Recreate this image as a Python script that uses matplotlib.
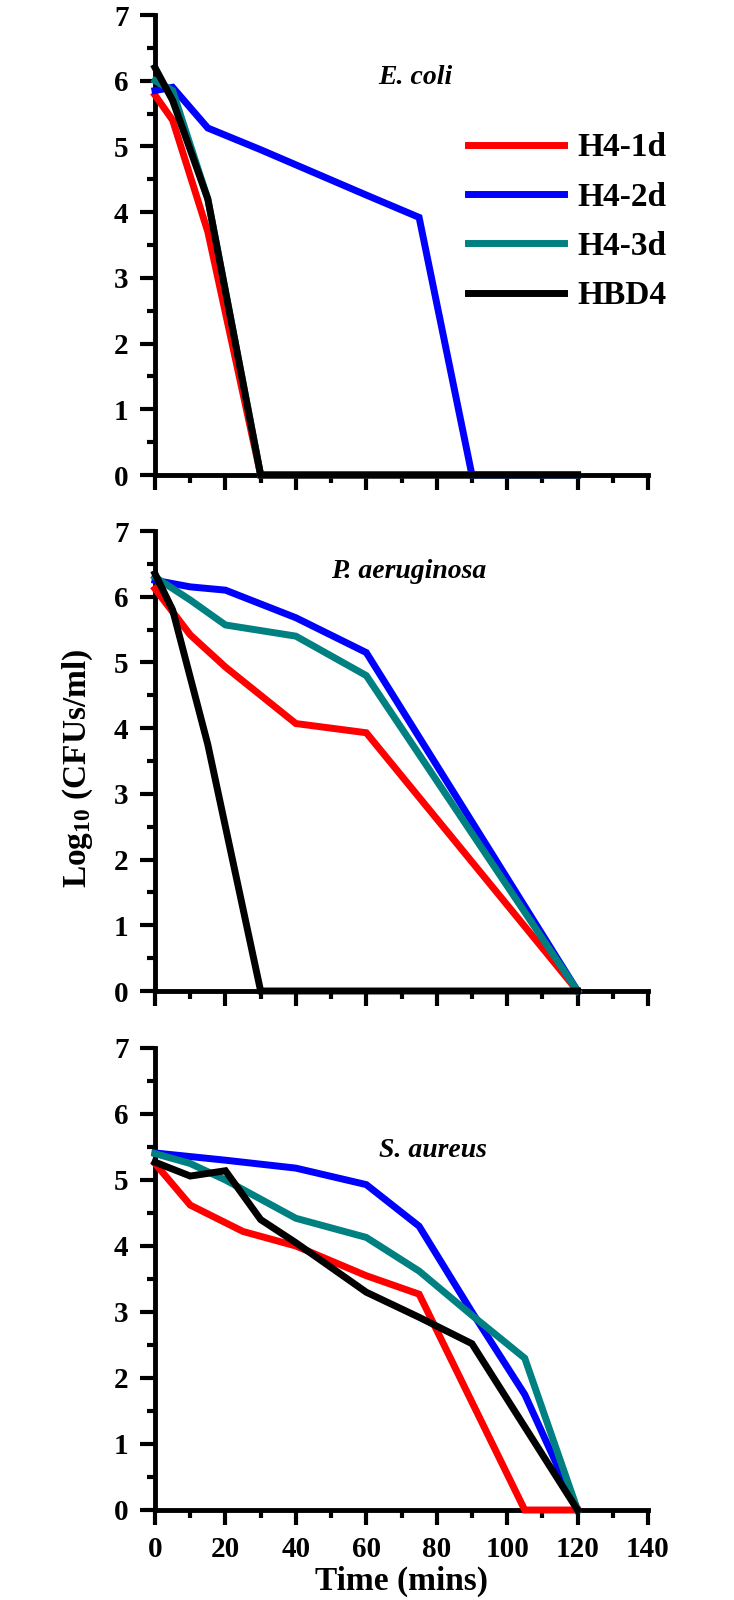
import matplotlib
matplotlib.use("Agg")
import matplotlib.pyplot as plt
from matplotlib.ticker import MultipleLocator

plt.rcParams['font.family'] = ['Liberation Serif', 'DejaVu Serif']
plt.rcParams['font.weight'] = 'bold'
plt.rcParams['mathtext.fontset'] = 'custom'
plt.rcParams['mathtext.rm'] = 'Liberation Serif:bold'
plt.rcParams['mathtext.default'] = 'rm'

labels = ['H4-1d', 'H4-2d', 'H4-3d', 'HBD4']
colors = ['#ff0000', '#0000ff', '#008080', '#000000']

# E. coli
ecoli_t = [[0, 5, 15, 30, 120],
           [0, 5, 15, 30, 60, 75, 90, 120],
           [0, 5, 15, 30, 120],
           [0, 5, 15, 30, 120]]
ecoli_v = [[5.78, 5.4, 3.7, 0, 0],
           [5.85, 5.9, 5.28, 4.95, 4.26, 3.92, 0, 0],
           [6.0, 5.85, 4.2, 0, 0],
           [6.2, 5.7, 4.2, 0, 0]]

# P. aeruginosa
paer_t = [[0, 10, 20, 40, 60, 120],
          [0, 10, 20, 40, 60, 120],
          [0, 10, 20, 40, 60, 120],
          [0, 5, 15, 30, 120]]
paer_v = [[6.12, 5.42, 4.93, 4.07, 3.93, 0],
          [6.25, 6.15, 6.1, 5.68, 5.15, 0],
          [6.3, 5.95, 5.57, 5.4, 4.8, 0],
          [6.35, 5.8, 3.75, 0, 0]]

# S. aureus
saur_t = [[0, 10, 25, 40, 60, 75, 105, 120],
          [0, 20, 40, 60, 75, 90, 105, 120],
          [0, 10, 20, 40, 60, 75, 90, 105, 120],
          [0, 10, 20, 30, 40, 60, 75, 90, 120]]
saur_v = [[5.25, 4.62, 4.22, 4.0, 3.55, 3.27, 0, 0],
          [5.41, 5.3, 5.18, 4.93, 4.3, 3.0, 1.75, 0],
          [5.4, 5.25, 5.0, 4.42, 4.13, 3.62, 2.95, 2.3, 0],
          [5.27, 5.06, 5.14, 4.4, 4.05, 3.3, 2.92, 2.52, 0]]

panels = [('E. coli', ecoli_t, ecoli_v, (74, 6.05)),
          ('P. aeruginosa', paer_t, paer_v, (72, 6.38)),
          ('S. aureus', saur_t, saur_v, (79, 5.45))]

W, H = 734, 1600
fig = plt.figure(figsize=(W / 100, H / 100), dpi=100)

left = 155 / W
width = (648 - 155) / W
tops = [15, 531, 1048]
bottoms = [475, 991, 1510]

axes = []
for i, (name, ts, vs, pos) in enumerate(panels):
    ax = fig.add_axes([left, 1 - bottoms[i] / H, width, (bottoms[i] - tops[i]) / H])
    for t, v, c, lab in zip(ts, vs, colors, labels):
        ax.plot(t, v, color=c, lw=5, label=lab, clip_on=False, zorder=3,
                solid_joinstyle='miter')
    ax.set_xlim(0, 140)
    ax.set_ylim(0, 7)
    ax.xaxis.set_major_locator(MultipleLocator(20))
    ax.xaxis.set_minor_locator(MultipleLocator(10))
    ax.yaxis.set_major_locator(MultipleLocator(1))
    ax.yaxis.set_minor_locator(MultipleLocator(0.5))
    for s in ['top', 'right']:
        ax.spines[s].set_visible(False)
    for s in ['left', 'bottom']:
        ax.spines[s].set_linewidth(3.5)
    ax.tick_params(which='major', direction='out', length=11, width=3,
                   labelsize=21, pad=8)
    ax.tick_params(which='minor', direction='out', length=6, width=3)
    if i < 2:
        ax.tick_params(labelbottom=False)
    ax.text(pos[0], pos[1], name, fontsize=20, fontstyle='italic',
            fontweight='bold', ha='center', va='center')
    axes.append(ax)

leg = axes[0].legend(loc='upper left', bbox_to_anchor=(0.634, 0.745),
                     frameon=False, fontsize=24, handlelength=2.9,
                     handletextpad=0.4, labelspacing=0.55,
                     borderaxespad=0, borderpad=0)

axes[2].set_xlabel('Time (mins)', fontsize=24, fontweight='bold', labelpad=2)
fig.text(78 / W, 1 - 768 / H, r'Log$_{10}$ (CFUs/ml)', rotation=90,
         fontsize=24, fontweight='bold', ha='center', va='center')

fig.savefig('out.png', dpi=100)
